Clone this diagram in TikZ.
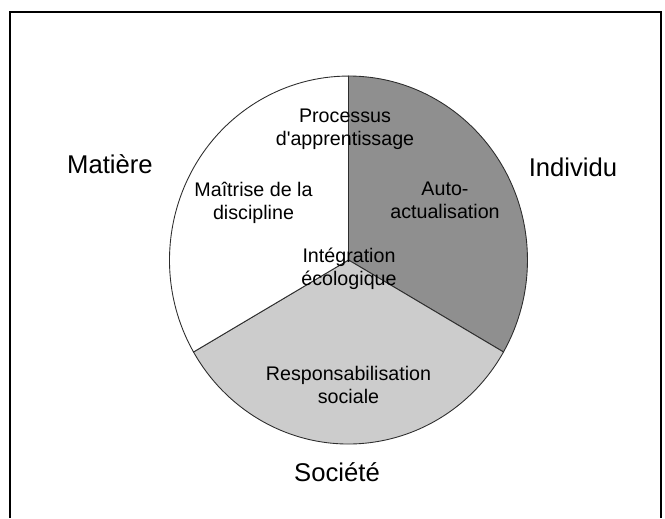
\documentclass[tikz,border=0pt]{standalone}
\usepackage{fontspec}
\setmainfont{Liberation Sans}
\definecolor{darksector}{RGB}{143,143,143}
\definecolor{lightsector}{RGB}{204,204,204}
\definecolor{rim}{RGB}{45,45,45}
\begin{document}
\begin{tikzpicture}[x=0.02cm, y=0.02cm, draw=rim, line width=0.5pt,
	poletext/.style={inner sep=0pt, font=\fontsize{14.6}{17}\selectfont},
	facettext/.style={align=center, inner sep=0pt, font=\fontsize{11.2}{13.1}\selectfont}]
		\useasboundingbox (0,0) rectangle (665,518);
		\draw[black, line width=0.04cm] (10,0) -- (10,506) -- (661,506) -- (661,0);
		\coordinate (c) at (348.5,258);
		\filldraw[fill=darksector] (c) -- ++(0,184)
			arc[start angle=90, end angle=-30, x radius=3.58cm, y radius=3.68cm] -- cycle;
		\filldraw[fill=lightsector] (c) -- ++(155,-92)
			arc[start angle=-30, end angle=-150, x radius=3.58cm, y radius=3.68cm] -- cycle;
		\filldraw[fill=white] (c) -- ++(-155,-92)
			arc[start angle=210, end angle=90, x radius=3.58cm, y radius=3.68cm] -- cycle;
		\node[facettext] (processus) at (345,388.5) {Processus\\d\textquotesingle apprentissage};
		\node[facettext] (maitrise) at (253.5,315.5) {Maîtrise de la\\discipline};
		\node[facettext] (auto) at (445,317.5) {Auto-\\actualisation};
		\node[facettext] (integration) at (349,249.5) {Intégration\\écologique};
		\node[facettext] (respons) at (348.5,133.5) {Responsabilisation\\sociale};
		\node[poletext] (matiere) at (110,354) {Matière};
		\node[poletext] (individu) at (573,351) {Individu};
		\node[poletext] (societe) at (337,46) {Société};
	\end{tikzpicture}
\end{document}
